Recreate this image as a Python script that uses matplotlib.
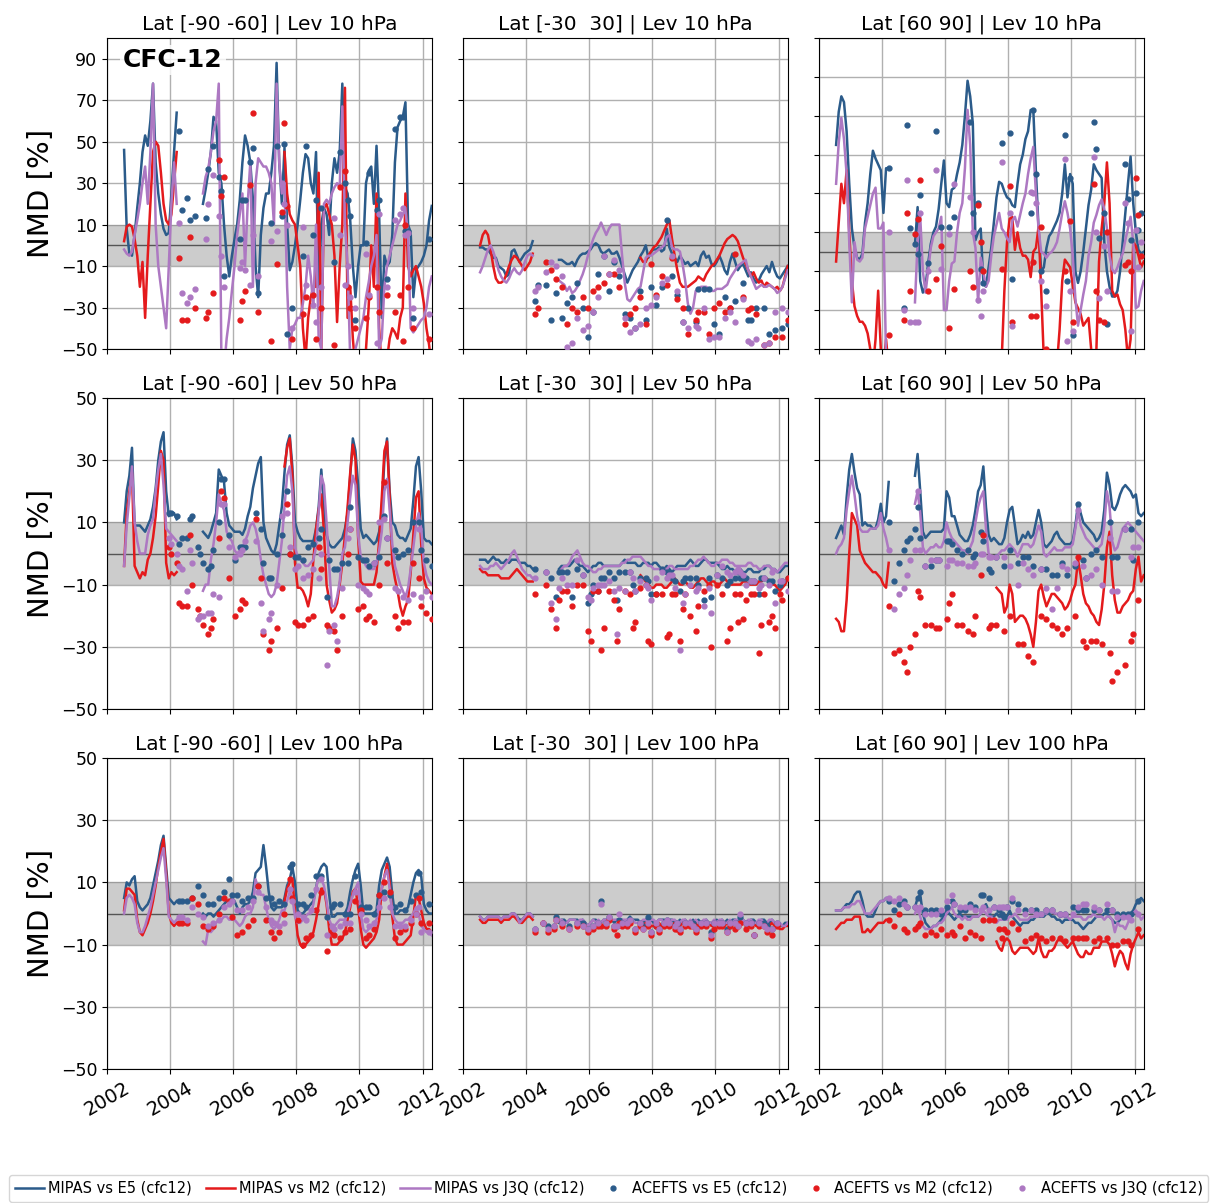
import numpy as np
import matplotlib
matplotlib.use("Agg")
import matplotlib.pyplot as plt

# monthly index, 0 = Jul 2002 ... 117 = Apr 2012
N_MONTHS = 118
MIPAS_MONTHS = list(range(0, 21)) + list(range(30, 118))   # gap Apr-Dec 2004
M2_MONTHS = list(range(0, 21)) + list(range(61, 118))      # M2 missing 2004-mid 2007

YEARS = [2002, 2004, 2006, 2008, 2010, 2012]

TITLES = ["Lat [-90 -60] | Lev 10 hPa", "Lat [-30  30] | Lev 10 hPa", "Lat [60 90] | Lev 10 hPa",
          "Lat [-90 -60] | Lev 50 hPa", "Lat [-30  30] | Lev 50 hPa", "Lat [60 90] | Lev 50 hPa",
          "Lat [-90 -60] | Lev 100 hPa", "Lat [-30  30] | Lev 100 hPa", "Lat [60 90] | Lev 100 hPa"]

# ---------------- 10 hPa, south pole ----------------
sp10_e5 = [46, 8, -4, -5, 5, 18, 30, 45, 53, 48, 60, 78, 40, 25, 15, 8, 5, 6, 25, 45, 64,
           20, 27, 35, 45, 62, 60, 35, 30, 10, -5,
           -15, -5, 3, 10, 22, 40, 53, 48, 40, 22,
           -10, -25, 5, 18, 25, 25, 35, 48, 88, 40,
           20, 47, 10, -12, -8, 0, 10, 22, 35, 44,
           42, 30, 25, 45, -20, 10, 18, 15, 5, 30,
           42, 35, 45, 78, 28, 25, 12, -10, -25, -10,
           0, 0, 30, 36, 38, 20, 48, 15, -35, -5,
           -10, -8, 5, 40, 57, 60, 62, 69, 10, 6,
           -25, -12, -10, -8, -5, 0, 12, 19]
sp10_m2 = [2, 9, 10, 9, 3, -5, -20, -8, -35, -5, 20, 45, 50, 48, 35, 20, 12, 10, 15, 30, 45,
           45, 25, 15, 12, 10, 0, -10, -40, -55, -35,
           -25, -20, -20, 35, -50, 18, 20, 15, 10, -5,
           -37, -10, 10, 76, -35, -20, -45, -60, -60, -60,
           -60, -50, -30, 0, -20, 25, -40, -60, -60, -55,
           -45, -40, -42, -45, -35, -30, 25, -10, -15, -12,
           -10, -15, -20, -28, -40, -48, -60]
sp10_j3q = [-2, -4, -5, -3, 5, 12, 20, 30, 38, 20, 45, 78, 10, -10, -20, -30, -40, -10, 20, 40, 20,
            25, 33, 37, 45, 55, 60, 78, -55, -60, -45,
            -35, -22, -10, 5, 15, 25, -10, 20, 40, -20,
            30, 42, 40, 38, 38, 35, 30, 10, 78, 40,
            25, 30, -20, -50, -40, -38, -35, -35, -28, -20,
            -5, -15, -30, 10, -45, -50, 20, 22, 20, 25,
            28, 30, 28, 67, 10, -10, -55, -55, -50, -45,
            -40, -35, -25, -18, -10, -5, 5, -50, -45, -20,
            -10, -5, 0, 5, 10, 12, 15, 17, 5, -40,
            -42, -40, -38, -36, -35, -30, -20, -15]
sp10_ace_mon = [21, 22, 24, 25, 27, 31, 32, 34, 36, 37, 38, 44, 45, 46, 48, 49, 51, 56, 58, 60, 61, 62, 64,
                68, 69, 72, 73, 75, 80, 82, 84, 85, 86, 88, 92, 93, 96, 97, 100, 103, 105, 106, 107, 108,
                110, 116]
sp10_ace_e5 = [55, 17, 23, 12, 14, 13, 37, 48, 33, 26, -15, 3, 22, 22, 40, 47, -23, 11, 48, 14, 49, -43, -30,
               -5, 48, 5, 22, 18, -8, 45, 30, 22, 14, -36, 1, 35, 17, 22, -16, 56, 62, 62, 7, 7, -35, 3]
sp10_ace_m2 = [-6, -36, -36, 4, -30, -35, -32, -23, 41, 24, 33, -36, -27, -22, 29, 64, -32, -46, -9, 16, 59,
               19, -45, -33, -25, -24, -45, -30, -48, 28, 36, -20, -30, -40, -35, -25, -20, -32, -24, -32,
               -24, -46, 10, -20, -40, -45]
sp10_ace_j3q = [11, -23, -28, -25, -21, 3, 20, 34, 14, -5, -20, -11, -8, -12, -19, 5, -15, 2, 7, 30, 20, 10,
                -40, 9, -19, -29, -37, -20, 13, 5, -19, -10, -25, -30, -4, -24, -47, 15, -20, 12, 15, 18, 5,
                6, -30, -33]

# ---------------- 10 hPa, tropics ----------------
tr10_e5 = [-1, -1, -2, -2, -4, -6, -6, -10, -11, -12, -15, -14, -3, -2, -5, -8, -6, -4, -3, -2, 2,
           -7, -7, -8, -9, -9, -8, -10, -7, -5, -4,
           -4, -3, -2, 0, 1, 0, -3, -4, -3, -2,
           -4, -4, -3, -6, -10, -14, -18, -15, -12, -10,
           -8, -5, -3, 0, -6, -3, -2, -2, -1, -3,
           -2, 8, -1, -4, -6, -8, -5, -7, -9, -8,
           -10, -9, -8, -10, -5, -3, -6, -5, -9, -10,
           -8, -5, -8, -12, -14, -8, -4, -8, -12, -10,
           -9, -12, -15, -13, -16, -18, -17, -14, -12, -10,
           -13, -8, -12, -15, -16, -14, -12, -10]
tr10_m2 = [0, 5, 7, 5, -2, -10, -16, -18, -18, -17, -14, -10, -7, -5, -6, -8, -10, -12, -10, -8, -4,
           -6, -8, -8, -5, -3, -1, 0, 2, 4, 7,
           10, 12, 3, -5, -12, -18, -20, -20, -20, -19,
           -18, -17, -15, -16, -17, -14, -12, -10, -9, -7,
           -5, -2, 1, 3, 4, 5, 4, 2, -2, -6,
           -9, -12, -15, -13, -16, -18, -17, -20, -18, -19,
           -20, -21, -20, -22, -20, -15, -10]
tr10_j3q = [-13, -10, -6, -2, 0, -3, -7, -12, -15, -17, -18, -16, -13, -11, -13, -14, -12, -8, -5, -4, -5,
            -17, -18, -19, -22, -20, -23, -22, -20, -17, -14,
            -10, -5, -1, 3, 6, 8, 11, 8, 5, 8,
            10, 10, 10, 10, -5, -18, -26, -27, -25, -23,
            -21, -20, -13, -6, -5, -5, -4, -3, -2, -1,
            0, 4, 5, -1, -2, -2, -3, -9, -17, -28,
            -33, -30, -22, -21, -20, -20, -20, -21, -22, -22,
            -21, -21, -21, -20, -19, -16, -14, -12, -10, -9,
            -8, -7, -12, -15, -18, -21, -20, -19, -20, -20,
            -19, -20, -21, -23, -22, -20, -16, -12]
tr10_ace_mon = [21, 22, 25, 27, 29, 31, 33, 35, 37, 39, 41, 43, 45, 47, 49, 51, 53, 55, 57, 59, 61, 63, 65,
                67, 69, 71, 73, 75, 77, 79, 82, 83, 85, 87, 89, 91, 93, 95, 97, 100, 102, 103, 105, 108,
                110, 112, 115, 117]
tr10_ace_e5 = [-27, -19, -19, -36, -23, -35, -28, -25, -18, -30, -44, -32, -14, -5, -22, -8, -15, -33, -35,
               -40, -22, -36, -20, -29, -20, 12, -15, -24, -37, -30, -37, -21, -21, -21, -38, -43, -25, -30,
               -27, -18, -36, -36, -30, -30, -43, -41, -40, -38]
tr10_ace_m2 = [-33, -30, -8, -12, -16, -20, -38, -30, -32, -25, -30, -22, -20, -18, -14, -14, -20, -38, -33,
               -30, -25, -38, -9, -24, -15, -19, -6, -26, -30, -43, -36, -32, -32, -43, -30, -28, -32, -30,
               -4, -25, -31, -30, -33, -48, -47, -44, -44, -36]
tr10_ace_j3q = [-22, -20, -13, -8, -10, -15, -49, -47, -35, -41, -39, -32, -25, -5, -14, -7, -12, -35, -42,
                -40, -38, -30, -29, -25, -18, -16, -5, -22, -37, -40, -39, -40, -30, -45, -44, -44, -35, -32,
                -37, -26, -46, -47, -45, -48, -47, -32, -30, -32]

# ---------------- 10 hPa, north pole ----------------
np10_e5 = [55, 72, 80, 77, 62, 35, 12, 2, -3, -4, -1, 15, 25, 40, 52, 48, 45, 42, 20, 43, 43,
           4, 23, -15, -21, -18, -6, 4, 10, 13, 22,
           35, 47, 25, 23, 32, 33, 40, 46, 55, 70,
           88, 80, 66, 6, 10, 12, -16, -18, -8, 2,
           15, 28, 36, 35, 31, 28, 27, 24, 23, 35,
           45, 50, 58, 62, 73, 73, 41, 12, -10, -8,
           2, 8, 10, 13, 16, 20, 30, 45, 28, 40,
           35, -10, -16, -10, 0, 12, 24, 32, 45, 42,
           40, 38, 5, -10, -18, -23, -23, -20, -10, 5,
           20, 35, 49, 25, 10, 1, -1, 0]
np10_m2 = [-5, 15, 35, 25, 42, 10, -15, -28, -33, -36, -36, -38, -42, -50, -60, -45, -20, -50, -60, -45, -60,
           -60, -60, -55, -20, 5, 17, 18, 1, 10, 2,
           -2, -2, -4, -13, 0, 2, 13, -20, -55, -60,
           -60, -60, -60, -58, -40, -15, -4, -6, -8, -17,
           -26, -29, -32, -38, -36, -34, -50, -55, -50, -5,
           12, 25, 46, 25, -20, -23, -22, -27, -30, -40,
           -55, -45, 5, 3, -2, -8, -5]
np10_j3q = [35, 56, 69, 58, 40, 5, -26, 5, -4, -5, -3, 12, 18, 24, 30, 33, 12, 12, 15, -55, -60,
            -26, 5, 18, -10, -21, -10, 2, 8, 10, 12,
            18, -30, -30, -15, -6, -5, 10, 20, 25, 43,
            73, 55, 10, 2, -26, -3, -10, -18, -15, -2,
            8, 14, 20, 12, 10, 7, 5, 16, 18, 13,
            19, 25, 30, 40, 48, 54, 30, 12, 0, -1,
            -3, -1, 0, 2, 5, 12, 20, 26, 20, 12,
            -2, -24, -38, -30, -22, -15, -2, 5, 15, 19,
            24, 27, 22, 12, -2, -9, -11, -8, -4, -1,
            6, 12, 18, 5, -29, -28, -20, -15]
np10_ace_mon = [20, 26, 27, 28, 30, 31, 32, 35, 38, 40, 43, 45, 51, 52, 54, 55, 56, 63, 66, 67, 74, 75, 76,
                78, 80, 87, 88, 89, 90, 98, 99, 100, 102, 103, 110, 111, 112, 114, 115, 116]
np10_ace_e5 = [43, -29, 65, 12, 4, -1, 29, -6, 62, 13, 13, 18, 67, 20, 25, -9, -16, 56, 61, -14, 20, 73, 40,
               -10, -20, 60, -15, 38, -43, 67, 53, 7, 20, -37, 45, 27, 6, 30, 11, 20]
np10_ace_m2 = [-43, -35, 20, -20, 9, 17, 37, -20, -14, 3, -39, -19, -10, -18, 24, 5, -10, -9, 34, -36, -33,
               -5, -33, 13, -50, -10, -55, 16, -36, 35, -20, -35, -36, 10, -7, -5, -10, 38, 19, -2]
np10_ace_j3q = [10, -30, 37, -36, -36, -36, 20, -10, 42, -9, 9, 35, 28, 10, -25, -33, -20, 46, 20, -38, 31,
                30, 25, -15, -28, 48, -46, -20, -41, 49, 10, -24, 3, -20, 25, 15, -41, 11, -8, 5]

# ---------------- 50 hPa, south pole ----------------
sp50_e5 = [10, 20, 25, 34, 9, 9, 9, 8, 7, 9, 11, 15, 21, 30, 36, 39, 20, 12, 13, 13, 11,
           7, 6, 5, 7, 10, 13, 27, 25, 23, 13,
           9, 8, 7, 7, 7, 6, 8, 12, 15, 21,
           25, 29, 31, 10, 5, 3, 1, 0, 3, 9,
           15, 26, 35, 38, 28, 10, 7, 5, 4, 4,
           4, 4, 4, 8, 15, 27, 15, 6, 3, 2,
           2, 3, 4, 5, 8, 13, 25, 37, 33, 22,
           8, 5, 6, 5, 4, 3, 4, 7, 14, 30,
           37, 20, 10, 9, 6, 5, 5, 4, 6, 8,
           17, 28, 31, 20, 5, 4, 4, 3]
sp50_m2 = [-4, 13, 20, 26, -4, -6, -8, -6, -7, -2, 0, 5, 12, 22, 33, 30, -3, -8, -6, -7, -6,
           28, 34, 37, 25, -3, -11, -11, -12, -14, -17,
           -13, -2, 8, 14, 19, 7, -10, -15, -19, -18,
           -16, -10, -3, 6, 15, 26, 35, 30, 5, -9,
           -10, -10, -10, -10, -10, -6, 4, 18, 33, 36,
           18, -3, -8, -12, -17, -20, -17, -15, -6, 6,
           18, 20, 3, -8, -11, -12, -13]
sp50_j3q = [-4, 9, 18, 28, 10, 4, 0, 0, 0, 6, 9, 11, 20, 27, 32, 22, 8, 7, 6, 5, 4,
            -12, -10, -10, -2, 3, 10, 19, 16, 14, 7,
            5, 4, 1, 0, 1, 2, 4, 6, 9, 10,
            8, 4, -2, -7, -10, -13, -14, -13, -10, -3,
            4, 15, 25, 28, 20, 2, -1, -2, -3, -4,
            -4, -3, -2, 2, 13, 25, 22, 10, -4, -17,
            -17, -14, -9, 0, 2, 10, 18, 25, 22, 6,
            -1, -2, -4, -5, -5, -5, -3, 1, 7, 20,
            24, 14, 3, -4, -7, -10, -12, -14, -11, -5,
            2, 9, 13, 8, -3, -7, -9, -10]
sp50_ace_mon = [17, 18, 20, 21, 22, 24, 25, 26, 28, 29, 30, 32, 33, 34, 36, 37, 38, 40, 42, 44, 45, 46, 50,
                52, 53, 55, 56, 58, 60, 62, 63, 65, 66, 68, 70, 72, 74, 75, 77, 78, 80, 81, 83, 85, 86, 89,
                91, 92, 93, 95, 97, 99, 100, 103, 104, 106, 108, 110, 112, 113, 115, 117]
sp50_ace_e5 = [13, 13, 12, 3, 5, 5, 11, 12, 2, 0, -3, -5, -4, 1, 10, 24, 24, 6, -2, 2, 2, 2, 13, 8, -3, -8,
               -8, 0, 6, 20, 0, -1, -1, -2, 2, 3, 5, 8, -14, -2, -5, -5, -3, -3, 15, -1, -2, -2, -4, -3,
               -1, 12, 5, 1, -1, 0, 1, 10, 10, 1, -2, -4]
sp50_ace_m2 = [2, 0, -3, -16, -17, -17, 6, -10, -18, -20, -23, -26, -24, -21, 5, 20, 18, -8, -20, -18, -15,
               -16, 11, -8, -26, -31, -28, -24, -11, 16, 0, -22, -23, -23, -21, -20, 2, -5, -23, -24, -25,
               -31, -20, 0, 8, -18, -17, -21, -20, -22, -10, 23, -3, -20, -24, -22, -22, -3, -8, -17, -19,
               -21]
sp50_ace_j3q = [5, 3, 0, -4, -5, -12, 1, -3, -21, -20, -20, -19, -19, -13, -14, 16, 16, 2, -1, 0, 1, 4, 4,
                -16, -25, -21, -19, -10, 12, 13, 2, -5, -4, -8, -7, -5, -8, 0, -36, -25, -23, -28, -11, 5,
                8, -10, -11, -12, -13, -3, 10, 11, 5, -11, -12, -14, -15, -13, 8, -14, -12, -14]

# ---------------- 50 hPa, tropics ----------------
tr50_e5 = [-2, -2, -2, -3, -2, -1, -2, -2, -3, -3, -2, -3, -2, -2, -2, -3, -3, -3, -4, -4, -5,
           -5, -4, -4, -4, -4, -3, -2, -3, -4, -4,
           -5, -6, -5, -4, -4, -3, -3, -4, -4, -4,
           -4, -4, -4, -4, -3, -2, -3, -3, -3, -3,
           -4, -4, -3, -3, -3, -4, -3, -3, -4, -5,
           -5, -4, -5, -6, -5, -4, -4, -4, -4, -3,
           -2, -3, -4, -4, -3, -2, -2, -3, -3, -3,
           -3, -4, -5, -5, -4, -5, -5, -6, -5, -5,
           -6, -6, -5, -5, -6, -6, -6, -5, -5, -4,
           -4, -5, -5, -6, -6, -5, -4, -4]
tr50_m2 = [-5, -6, -6, -7, -7, -7, -7, -7, -8, -8, -8, -8, -7, -6, -5, -6, -7, -8, -9, -9, -9,
           -7, -8, -9, -10, -11, -11, -10, -10, -10, -11,
           -11, -10, -9, -8, -9, -10, -10, -9, -10, -11,
           -11, -10, -9, -8, -8, -9, -10, -9, -9, -10,
           -10, -9, -8, -9, -10, -10, -10, -10, -10, -9,
           -9, -10, -10, -10, -10, -9, -9, -8, -8, -9,
           -10, -10, -11, -12, -11, -10, -8]
tr50_j3q = [-4, -5, -5, -5, -4, -4, -3, -4, -5, -4, -3, -2, 0, 1, -1, -3, -5, -6, -7, -7, -8,
            -6, -5, -4, -4, -3, -1, 0, 1, -1, -3,
            -4, -4, -5, -6, -6, -5, -5, -4, -4, -4,
            -4, -4, -4, -4, -3, -3, -2, -2, -1, -1,
            -1, -1, -2, -3, -4, -4, -5, -5, -5, -5,
            -5, -5, -4, -4, -5, -5, -5, -5, -5, -5,
            -4, -4, -3, -2, -2, -1, -2, -3, -4, -4,
            -3, -3, -2, -2, -2, -3, -3, -4, -4, -4,
            -4, -4, -3, -3, -4, -4, -5, -5, -4, -4,
            -4, -5, -5, -6, -5, -4, -3, -3]
tr50_ace_mon = [21, 25, 27, 29, 30, 31, 33, 35, 37, 39, 41, 42, 43, 45, 46, 47, 49, 51, 52, 53, 55, 57, 58,
                59, 61, 63, 64, 65, 67, 69, 71, 72, 73, 74, 76, 77, 78, 80, 82, 83, 85, 87, 88, 90, 92, 94,
                95, 97, 98, 99, 100, 101, 103, 104, 106, 107, 108, 110, 111, 112, 114, 115, 117]
tr50_ace_e5 = [-5, -6, -8, -14, -6, -6, -6, -14, -5, -7, -16, -13, -10, -12, -8, -8, -6, -8, -15, -6, -6, -6,
               -10, -12, -8, -8, -9, -13, -13, -5, -6, -7, -8, -9, -12, -9, -8, -8, -8, -10, -15, -8, -14,
               -7, -8, -10, -9, -8, -6, -8, -8, -8, -9, -9, -13, -8, -8, -9, -9, -12, -10, -9, -8]
tr50_ace_m2 = [-13, -10, -18, -24, -15, -12, -12, -17, -10, -10, -25, -28, -12, -12, -31, -24, -12, -15, -28,
               -18, -12, -13, -24, -22, -11, -10, -28, -29, -13, -13, -27, -26, -13, -13, -28, -18, -13, -20,
               -25, -17, -12, -10, -30, -10, -13, -28, -24, -13, -22, -13, -21, -15, -13, -13, -32, -23, -13,
               -22, -20, -24, -13, -15, -8]
tr50_ace_j3q = [-8, -6, -16, -21, -11, -8, -10, -10, -2, -7, -14, -15, -11, -10, -10, -10, -9, -12, -26, -11,
                -12, -6, -8, -12, -9, -10, -11, -15, -8, -6, -8, -7, -7, -11, -31, -16, -13, -10, -12, -11,
                -17, -11, -19, -7, -4, -6, -7, -6, -5, -6, -7, -10, -9, -9, -11, -10, -8, -10, -6, -16, -9,
                -9, -12]

# ---------------- 50 hPa, north pole ----------------
np50_e5 = [5, 7, 9, 6, 18, 27, 32, 26, 21, 19, 9, 10, 9, 9, 8, 8, 11, 16, 10, 12, 23,
           25, 32, 20, 7, 5, 6, 7, 7, 7, 7,
           7, 8, 20, 18, 12, 12, 9, 6, 5, 4,
           4, 6, 9, 14, 20, 22, 28, 15, 6, 4,
           5, 4, 3, 3, 5, 10, 14, 15, 9, 3,
           4, 6, 5, 7, 5, 6, 10, 14, 10, 3,
           2, 3, 4, 6, 7, 5, 4, 3, 3, 3,
           4, 9, 16, 13, 10, 9, 8, 7, 6, 4,
           5, 7, 14, 26, 22, 15, 14, 16, 19, 21,
           22, 21, 20, 18, 19, 13, 12, 13]
np50_m2 = [-21, -22, -25, -25, -15, 0, 13, 11, 9, 1, -1, -3, -4, -5, -6, -6, -7, -8, -10, -11, -3,
           -11, -12, -13, -19, -17, -10, -13, -22, -21, -20,
           -20, -21, -23, -26, -30, -22, -12, -10, -14, -17,
           -15, -13, -13, -14, -15, -16, -18, -17, -15, -12,
           -10, -2, -7, -13, -16, -17, -19, -20, -22, -23,
           -18, -10, 2, 7, -7, -15, -19, -19, -17, -16,
           -15, -13, -12, -5, -1, -9, -7]
np50_j3q = [0, 2, 3, 5, 14, 20, 25, 19, 12, 8, 7, 7, 7, 8, 8, 8, 9, 13, 8, 5, 1,
            16, 20, 13, 2, 0, 1, 2, 2, 3, 2,
            2, 4, 10, 7, 5, 4, 3, 2, 1, 1,
            0, 2, 4, 10, 15, 18, 20, 8, 0, -1,
            -1, -1, 0, 1, 1, 2, 3, 2, 1, -1,
            1, 3, 3, 3, 2, 3, 6, 9, 7, 0,
            -1, 0, 1, 2, 1, 1, 1, 2, 2, 2,
            3, 8, 14, 9, 7, 5, 4, 3, 2, 1,
            2, 3, 9, 20, 15, 4, 1, 2, 5, 8,
            9, 10, 9, 8, 7, 6, 5, 4]
np50_ace_mon = [20, 22, 24, 26, 27, 28, 30, 31, 32, 34, 36, 38, 39, 42, 43, 44, 46, 48, 50, 52, 53, 55, 56,
                58, 59, 61, 64, 66, 69, 71, 73, 75, 78, 80, 82, 84, 86, 88, 91, 92, 94, 95, 97, 99, 101,
                104, 105, 107, 110, 112, 113, 115]
np50_ace_e5 = [10, -9, -3, 1, 4, 5, 8, 15, 5, -4, -4, -2, -2, 4, 4, 3, 1, 0, 1, -1, 0, 7, 4, -5, -6, -1,
               -4, 1, -3, -1, -1, -4, -5, -5, -7, -7, -3, -7, -4, 16, -2, -8, 0, 1, -1, 10, -1, -1, 8, 8,
               -2, 10]
np50_ace_m2 = [-17, -32, -31, -35, -38, -30, -26, -12, -14, -23, -23, -24, -24, -21, -16, -13, -23, -23, -25,
               -26, -20, -7, 6, -24, -23, -23, -25, -20, -29, -29, -33, -35, -20, -21, -23, -24, -26, -24,
               -20, -1, -28, -30, -28, -28, -29, -32, -41, -38, -36, -28, -26, -15]
np50_ace_j3q = [1, -18, -13, -11, -7, -2, 1, 20, 1, -4, -2, -2, -2, -4, -2, -2, -3, -3, -4, -4, -3, 0, 0, -1,
                -1, -1, -1, -4, -10, -3, -5, -7, -5, -11, -18, -11, -4, -5, -3, 14, -4, -8, -7, -5, -10, 5,
                -12, -12, 8, -1, 2, 2]

# ---------------- 100 hPa, south pole ----------------
sp100_e5 = [5, 10, 9, 11, 12, 4, 2, 1, 2, 3, 5, 9, 13, 17, 22, 25, 15, 5, 4, 3, 4,
            0, -1, 0, 0, -1, 0, 1, 2, 3, 4,
            3, 5, 4, 2, 0, 2, 3, 3, 4, 7,
            13, 14, 15, 22, 15, 7, 2, 1, 2, 2,
            2, 5, 9, 11, 15, 10, 1, 0, 0, 1,
            2, 3, 4, 8, 13, 15, 16, 15, 6, -1,
            -1, 0, 0, 0, 0, 2, 7, 11, 14, 16,
            9, 0, 0, 0, 0, 0, 1, 9, 14, 16,
            18, 15, 6, 0, 0, 1, 1, 1, 2, 6,
            10, 13, 14, 12, 3, 1, 0, 0]
sp100_m2 = [1, 8, 8, 7, 6, -2, -6, -7, -5, -3, 0, 4, 9, 15, 20, 24, 13, 0, -3, -4, -3,
            4, 8, 10, 11, 1, -7, -10, -11, -10, -9,
            -8, -6, -2, 3, 8, 8, 3, -5, -10, -10,
            -10, -9, -8, -6, -2, 2, 7, 8, 2, -5,
            -10, -11, -10, -9, -8, -6, -2, 8, 12, 16,
            10, -1, -8, -10, -10, -10, -9, -8, -7, -1,
            6, 5, 1, -3, -5, -5, -6]
sp100_j3q = [0, 5, 6, 5, 3, -3, -6, -6, -4, -1, 2, 6, 10, 14, 18, 21, 11, -1, -2, -3, -2,
             -9, -10, -5, -6, -5, -3, -2, -2, -1, -1,
             -2, -2, -2, -3, -4, -3, -1, 0, 0, 2,
             11, 8, 6, 6, 2, -2, -4, -5, -4, -2,
             1, 1, 4, 7, 5, -1, -3, -3, -2, -1,
             0, 0, 3, 8, 12, 11, 9, 4, -2, -4,
             -4, -3, -2, -2, -2, 0, 3, 6, 8, 10,
             0, -5, -6, -5, -4, -3, -2, 3, 8, 12,
             14, 8, 0, -2, -3, -3, -3, -2, -2, -1,
             0, 2, 0, -4, -5, -6, -6, -7]
sp100_ace_mon = [21, 22, 24, 26, 28, 30, 32, 34, 36, 38, 40, 41, 43, 45, 47, 49, 51, 54, 56, 57, 59, 61, 63,
                 64, 66, 68, 69, 71, 73, 75, 77, 79, 80, 82, 84, 86, 88, 90, 92, 93, 95, 97, 99, 101, 103,
                 105, 107, 109, 111, 112, 113, 116]
sp100_ace_e5 = [4, 4, 4, 5, 9, 6, 3, 3, 5, 7, 11, 6, 6, 4, 5, 5, 9, 5, 5, 3, 4, 3, 15, 16, 3, 3, 2, 6, 12,
                12, -1, 2, 3, 3, 0, 0, 12, 2, 2, 2, 0, 6, 7, 6, 2, 3, 1, 4, 6, 13, 7, 3]
sp100_ace_m2 = [-3, -3, -3, 5, 3, -4, -5, -4, 0, 5, 4, -1, -7, -6, -4, -2, 9, -2, -6, -8, -6, 0, 11, 5, -2,
                -10, -8, -7, 1, 7, -12, -6, -7, -8, -6, -5, 4, 1, -8, -7, -5, 6, 10, 7, -8, -6, -5, -3, 0,
                5, -3, -3]
sp100_ace_j3q = [-1, -1, -2, 2, 0, -1, -4, -3, -2, 2, 3, 4, 1, 1, 2, 4, 7, 2, -2, -3, -4, -3, 8, 4, 0, -1,
                 -2, 1, 8, 11, -7, -4, -5, -4, -3, -3, 7, 0, -2, -4, -3, 2, 5, 2, -4, -4, -4, -2, 0, 2, -6,
                 -6]

# ---------------- 100 hPa, tropics ----------------
tr100_e5 = [-1, -2, -2, -1, -1, -1, -1, -1, -2, -1, -1, -1, 0, 0, -1, -2, -2, -1, 0, 0, -1,
            -3, -2, -2, -3, -2, -2, -2, -2, -3, -2,
            -3, -4, -3, -2, -2, -3, -3, -2, -2, -2,
            -2, -3, -2, -2, -2, -3, -2, -1, -2, -2,
            -2, -3, -3, -2, -2, -2, -3, -3, -2, -2,
            -2, -3, -2, -2, -3, -3, -2, -3, -2, -3,
            -3, -2, -3, -2, -3, -3, -2, -3, -3, -3,
            -2, -3, -2, -3, -2, -3, -2, -2, -3, -2,
            -2, -3, -3, -2, -2, -3, -3, -2, -2, -3,
            -3, -2, -3, -3, -4, -4, -3, -3]
tr100_m2 = [-2, -3, -3, -2, -2, -2, -2, -2, -3, -2, -2, -2, -1, -1, -2, -3, -3, -2, -1, -1, -2,
            -4, -4, -3, -3, -4, -4, -3, -3, -4, -3,
            -3, -4, -4, -3, -4, -4, -3, -4, -3, -4,
            -4, -3, -4, -3, -4, -4, -3, -4, -4, -3,
            -4, -3, -4, -3, -4, -3, -3, -4, -3, -3,
            -4, -4, -3, -3, -4, -4, -3, -3, -4, -4,
            -3, -4, -4, -5, -5, -4, -4]
tr100_j3q = [-1, -2, -2, -1, -1, -1, -1, -1, -2, -1, -1, -1, 0, 0, -1, -3, -2, -1, 0, 0, -1,
             -2, -2, -3, -3, -2, -2, -2, -3, -2, -2,
             -3, -4, -3, -2, -3, -2, -3, -2, -2, -2,
             -2, -2, -2, -3, -2, -2, -2, -2, -2, -3,
             -3, -3, -2, -2, -3, -2, -2, -3, -2, -2,
             -3, -2, -3, -2, -2, -3, -3, -2, -2, -3,
             -2, -3, -2, -3, -3, -2, -2, -3, -3, -2,
             -3, -2, -2, -3, -3, -2, -3, -2, -2, -3,
             -2, -3, -2, -2, -3, -3, -2, -2, -3, -3,
             -2, -2, -3, -3, -3, -4, -4, -3]
tr100_ace_mon = [21, 24, 26, 28, 29, 31, 34, 37, 39, 41, 43, 45, 46, 48, 49, 51, 52, 53, 54, 56, 57, 59, 61,
                 62, 64, 65, 67, 68, 70, 71, 72, 74, 75, 76, 78, 80, 81, 82, 84, 86, 88, 89, 91, 92, 94, 95,
                 97, 98, 99, 101, 103, 104, 106, 108, 109, 111, 113]
tr100_ace_e5 = [-5, -3, -4, -4, -1, -3, -4, -3, -3, -5, -4, -3, 4, -3, -1, -4, -4, -2, -3, -3, -2, -5, -3,
                -4, -1, -6, -4, -5, -3, -2, -3, -4, -3, -5, -3, -3, -3, -5, -3, -3, -6, -3, -3, -3, -5,
                -3, -3, -3, -1, -3, -3, -7, -3, -3, -4, -5, -3]
tr100_ace_m2 = [-6, -3, -6, -5, -2, -4, -5, -4, -4, -6, -5, -4, -4, -4, -2, -5, -7, -3, -4, -4, -3, -6, -4,
                -5, -4, -7, -4, -6, -4, -3, -4, -5, -5, -6, -4, -4, -4, -6, -4, -4, -8, -5, -4, -4, -6,
                -4, -5, -4, -3, -5, -4, -7, -4, -4, -6, -7, -4]
tr100_ace_j3q = [-5, -3, -5, -4, -2, -3, -5, -3, -4, -5, -4, -3, 3, -3, -1, -4, -4, 0, -3, -3, -2, -5, -3,
                 -5, -3, -6, -3, -5, -3, -2, -3, -4, -3, -5, -3, -3, -4, -5, -3, -3, -7, -3, -3, -3, -6,
                 -3, -3, -4, 0, -3, -3, -7, -3, -4, -5, -5, -3]

# ---------------- 100 hPa, north pole ----------------
np100_e5 = [1, 1, 1, 2, 3, 3, 4, 6, 7, 7, 4, 0, -1, -1, -1, 1, 3, 4, 4, 5, 5,
            2, 5, 6, 0, -3, -4, -5, -4, -4, -3,
            -2, -1, 1, 0, -1, -2, -1, 0, -1, -1,
            -1, -1, -1, -1, -1, 0, 2, 3, 1, -1,
            -1, 0, -1, -1, -1, -1, 1, -1, -2, -3,
            -4, -3, -3, -3, -2, -2, -1, -1, -1, -1,
            0, 0, -1, -1, -2, -2, -3, -2, -2, -2,
            -2, -3, -3, -4, -5, -4, -3, -3, -2, -1,
            -1, -1, 0, 0, -1, -2, -3, -3, -2, -1,
            -1, 0, 0, 1, 3, 4, 5, 4]
np100_m2 = [-5, -4, -3, -3, -2, -2, -2, -1, -1, -1, -6, -6, -5, -6, -5, -4, -3, -3, -3, -2, -2,
            -9, -11, -12, -9, -8, -9, -12, -13, -12, -11,
            -11, -11, -11, -12, -13, -12, -8, -12, -14, -14,
            -12, -12, -11, -9, -8, -9, -10, -11, -10, -9,
            -11, -13, -14, -14, -12, -13, -13, -11, -11, -11,
            -9, -9, -9, -10, -13, -17, -14, -12, -13, -16,
            -18, -13, -10, -8, -6, -8, -7]
np100_j3q = [1, 1, 1, 2, 2, 2, 3, 3, 4, 4, 2, 0, 0, 0, 1, 2, 3, 4, 4, 5, 5,
             0, 2, -1, -4, -5, -5, -5, -4, -4, -3,
             -3, -2, 0, 1, 2, 0, -1, -1, -2, -1,
             -2, -2, -1, -1, -1, 0, 1, 0, -1, -1,
             -2, -3, -2, -2, -2, -2, -1, -1, 0, -1,
             -2, -2, -2, -2, -1, -1, -1, -1, 0, 0,
             0, 1, 1, 0, 0, -1, -1, -1, -1, -2,
             -1, -1, -1, -1, -2, -2, -1, -1, 0, -1,
             -1, -1, -2, -1, -1, -2, -6, -3, -4, -4,
             -5, -3, -1, 0, 1, 0, -2, -1]
np100_ace_mon = [20, 22, 24, 26, 27, 30, 31, 32, 34, 36, 38, 40, 42, 44, 45, 47, 49, 51, 53, 55, 56, 58, 60,
                 62, 63, 64, 65, 67, 69, 72, 74, 76, 78, 80, 82, 85, 87, 90, 92, 94, 95, 98, 100, 103, 105,
                 107, 109, 111, 112, 115]
np100_ace_e5 = [4, 1, 3, 4, 2, 2, 5, 7, 1, 1, 1, 0, 2, 4, 3, 1, 1, 3, 2, 6, 6, 5, 2, 1, 0, -1, 2, 4, 3, 1,
                1, 1, 0, 1, 1, 0, 0, 2, 1, 1, 1, 1, 1, 1, 1, 0, 0, 0, 0, 4]
np100_ace_m2 = [-2, -4, 0, -5, -6, -5, -4, -3, -7, -6, -7, -5, -7, -6, -7, -4, -8, -6, -7, -8, -2, -2, -2,
                -5, -8, -5, -6, -3, -5, -9, -8, -7, -8, -9, -8, -8, -9, -8, -8, -8, -8, -9, -8, -8, -10,
                -10, -9, -9, -10, -5]
np100_ace_j3q = [5, 4, 5, 3, 2, 2, 1, 2, 0, 0, 0, 1, 4, 6, 3, 2, 2, 2, 1, 1, 2, 1, 2, 2, 2, 2, 2, 5, 1, 0,
                 1, 0, 0, 1, 1, 0, 0, 0, 2, 3, 3, 2, 1, 3, 1, -1, -1, -1, -2, 0]

panels = [
    (sp10_e5, sp10_m2, sp10_j3q, sp10_ace_mon, sp10_ace_e5, sp10_ace_m2, sp10_ace_j3q),
    (tr10_e5, tr10_m2, tr10_j3q, tr10_ace_mon, tr10_ace_e5, tr10_ace_m2, tr10_ace_j3q),
    (np10_e5, np10_m2, np10_j3q, np10_ace_mon, np10_ace_e5, np10_ace_m2, np10_ace_j3q),
    (sp50_e5, sp50_m2, sp50_j3q, sp50_ace_mon, sp50_ace_e5, sp50_ace_m2, sp50_ace_j3q),
    (tr50_e5, tr50_m2, tr50_j3q, tr50_ace_mon, tr50_ace_e5, tr50_ace_m2, tr50_ace_j3q),
    (np50_e5, np50_m2, np50_j3q, np50_ace_mon, np50_ace_e5, np50_ace_m2, np50_ace_j3q),
    (sp100_e5, sp100_m2, sp100_j3q, sp100_ace_mon, sp100_ace_e5, sp100_ace_m2, sp100_ace_j3q),
    (tr100_e5, tr100_m2, tr100_j3q, tr100_ace_mon, tr100_ace_e5, tr100_ace_m2, tr100_ace_j3q),
    (np100_e5, np100_m2, np100_j3q, np100_ace_mon, np100_ace_e5, np100_ace_m2, np100_ace_j3q),
]
YTOPS = [100, 100, 110, 50, 50, 50, 50, 50, 50]

C_E5 = "#2b5b8a"
C_M2 = "#e41a1c"
C_J3Q = "#ad78c2"


def month_to_year(m):
    return 2002 + (np.asarray(m, dtype=float) + 6.5) / 12.0


def on_grid(months, values):
    # spread a series over the full monthly axis, NaN where there is no data
    full = np.full(N_MONTHS, np.nan)
    n = min(len(months), len(values))
    full[np.asarray(months[:n])] = values[:n]
    return full


t_all = month_to_year(np.arange(N_MONTHS))

fig, axes = plt.subplots(3, 3, figsize=(12.1, 12.03), dpi=100)
fig.subplots_adjust(left=107 / 1210, right=1144 / 1210, top=1 - 38 / 1203, bottom=1 - 1069 / 1203,
                    wspace=0.0954, hspace=0.1576)

for i, ax in enumerate(axes.flat):
    row, col = divmod(i, 3)
    e5, m2, j3q, amon, ae5, am2, aj3q = panels[i]

    ax.axhspan(-10, 10, color="gray", alpha=0.4, lw=0, zorder=1)
    ax.axhline(0, color="#555555", lw=1.0, zorder=1.5)

    ax.plot(t_all, on_grid(MIPAS_MONTHS, e5), color=C_E5, lw=1.8, zorder=3, label="MIPAS vs E5 (cfc12)")
    ax.plot(t_all, on_grid(M2_MONTHS, m2), color=C_M2, lw=1.8, zorder=3, label="MIPAS vs M2 (cfc12)")
    ax.plot(t_all, on_grid(MIPAS_MONTHS, j3q), color=C_J3Q, lw=1.8, zorder=3, label="MIPAS vs J3Q (cfc12)")

    n = min(len(amon), len(ae5), len(am2), len(aj3q))
    ta = month_to_year(amon[:n])
    ax.plot(ta, ae5[:n], ".", color=C_E5, ms=7, zorder=4, label="ACEFTS vs E5 (cfc12)")
    ax.plot(ta, am2[:n], ".", color=C_M2, ms=7, zorder=4, label="ACEFTS vs M2 (cfc12)")
    ax.plot(ta, aj3q[:n], ".", color=C_J3Q, ms=7, zorder=4, label="ACEFTS vs J3Q (cfc12)")

    ax.set_xlim(2002, 2012.3)
    ax.set_ylim(-50, YTOPS[i])
    ax.set_yticks(np.arange(-50, YTOPS[i] + 1, 20))
    ax.set_xticks(YEARS)
    ax.grid(True, color="#b0b0b0", lw=1.0)
    ax.set_axisbelow(True)
    ax.set_title(TITLES[i], fontsize=14.5)
    ax.tick_params(axis="y", labelsize=12.5)
    ax.tick_params(axis="x", labelsize=14)

    if col == 0:
        ax.set_ylabel("NMD [%]", fontsize=21)
    else:
        ax.tick_params(labelleft=False)
    if row < 2:
        ax.tick_params(labelbottom=False)
    else:
        plt.setp(ax.get_xticklabels(), rotation=30)

axes[0, 0].text(0.05, 0.93, "CFC-12", transform=axes[0, 0].transAxes, fontsize=18, fontweight="bold",
                ha="left", va="center", zorder=6,
                bbox=dict(facecolor="white", alpha=0.8, edgecolor="none", pad=2))

handles, labels = axes[0, 0].get_legend_handles_labels()
fig.legend(handles, labels, loc="lower center", bbox_to_anchor=(0.503, 0.0), ncol=6, fontsize=10.5,
           handlelength=2.0, handletextpad=0.3, columnspacing=0.95, borderaxespad=0.1)

fig.savefig("out.png", dpi=100)
